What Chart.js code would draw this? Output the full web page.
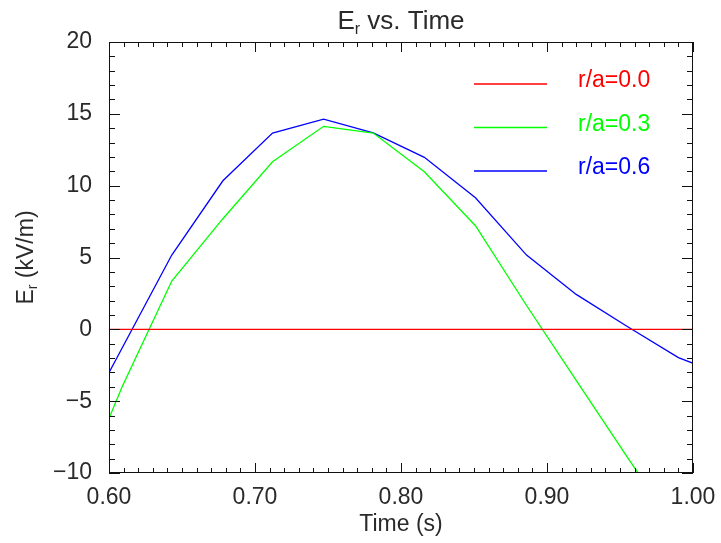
<!DOCTYPE html>
<html>
<head>
<meta charset="utf-8">
<script src="https://cdn.jsdelivr.net/npm/chart.js@4.4.0/dist/chart.umd.min.js"></script>
<style>
  body { margin: 0; background: #fff; }
  #wrap { width: 721px; height: 543px; }
</style>
</head>
<body>
<div id="wrap"><canvas id="erChart"></canvas></div>
<script>
// Time points (s); first and last lie outside the plotted range and get clipped
const times = [0.575, 0.609, 0.643, 0.678, 0.712, 0.747, 0.781, 0.816, 0.851, 0.886, 0.920, 0.955, 0.990, 1.024];

// Er (kV/m) for each radius
const er00 = [0, 0, 0, 0, 0, 0, 0, 0, 0, 0, 0, 0, 0, 0];
const er03 = [-12.3, -4.0, 3.36, 7.7, 11.66, 14.13, 13.66, 10.97, 7.21, 1.66, -3.56, -8.9, -14.1, -19.0];
const er06 = [-7.8, -1.3, 5.17, 10.34, 13.66, 14.63, 13.68, 11.97, 9.16, 5.17, 2.43, 0.2, -1.97, -3.3];

const seriesLabels = ['r/a=0.0', 'r/a=0.3', 'r/a=0.6'];
const seriesColors = ['#ff0000', '#00ff00', '#0000ff'];

// Tick values and labels
const xTicks = [0.6, 0.7, 0.8, 0.9, 1.0];
const xTickLabels = ['0.60', '0.70', '0.80', '0.90', '1.00'];
const yTicks = [-10, -5, 0, 5, 10, 15, 20];
const yTickLabels = ['\u221210', '\u22125', '0', '5', '10', '15', '20'];

const FONT = 'Liberation Sans, Arial, sans-serif';
const INK = '#2a2a2a';

function toPoints(vals) {
    return times.map((t, i) => ({ x: t, y: vals[i] }));
}

// draws text with a subscript part: [base, sub, rest]
function subText(ctx, parts, size, cx, cy) {
    const small = Math.round(size * 0.62);
    ctx.font = size + 'px ' + FONT;
    const w0 = ctx.measureText(parts[0]).width;
    const w2 = ctx.measureText(parts[2]).width;
    ctx.font = small + 'px ' + FONT;
    const w1 = ctx.measureText(parts[1]).width;
    let x = cx - (w0 + w1 + w2) / 2;
    ctx.textBaseline = 'alphabetic';
    ctx.textAlign = 'left';
    ctx.font = size + 'px ' + FONT;
    ctx.fillText(parts[0], x, cy);
    x += w0;
    ctx.font = small + 'px ' + FONT;
    ctx.fillText(parts[1], x, cy + size * 0.18);
    x += w1;
    ctx.font = size + 'px ' + FONT;
    ctx.fillText(parts[2], x, cy);
}

const framePlugin = {
    id: 'frame',
    afterDraw(chart) {
        const { ctx, chartArea: ca, scales: { x, y } } = chart;
        ctx.save();
        ctx.strokeStyle = '#111';
        ctx.lineWidth = 1;
        ctx.strokeRect(ca.left + 0.5, ca.top + 0.5, ca.right - ca.left - 1, ca.bottom - ca.top - 1);

        // inward ticks, minor every 0.01 s and every 1 kV/m
        ctx.beginPath();
        for (let i = 0; i <= 40; i++) {
            const px = Math.round(x.getPixelForValue(0.6 + i * 0.01)) + 0.5;
            const len = i % 10 === 0 ? 10 : 5;
            ctx.moveTo(px, ca.bottom); ctx.lineTo(px, ca.bottom - len);
            ctx.moveTo(px, ca.top); ctx.lineTo(px, ca.top + len);
        }
        for (let i = 0; i <= 30; i++) {
            const py = Math.round(y.getPixelForValue(-10 + i)) + 0.5;
            const len = i % 5 === 0 ? 11 : 6;
            ctx.moveTo(ca.left, py); ctx.lineTo(ca.left + len, py);
            ctx.moveTo(ca.right, py); ctx.lineTo(ca.right - len, py);
        }
        ctx.stroke();

        // legend inside the plot
        chart.data.datasets.forEach((ds, i) => {
            const ly = ca.top + 42 + i * 43.5;
            ctx.strokeStyle = ds.borderColor;
            ctx.lineWidth = 1.3;
            ctx.beginPath();
            ctx.moveTo(ca.right - 219, ly);
            ctx.lineTo(ca.right - 146, ly);
            ctx.stroke();
            ctx.fillStyle = ds.borderColor;
            ctx.font = '23px ' + FONT;
            ctx.textAlign = 'left';
            ctx.textBaseline = 'middle';
            ctx.fillText(ds.label, ca.right - 115, ly - 3);
        });

        // titles
        ctx.fillStyle = INK;
        const cx = (ca.left + ca.right) / 2;
        subText(ctx, ['E', 'r', ' vs. Time'], 26, cx, 29);
        ctx.font = '23px ' + FONT;
        ctx.textAlign = 'center';
        ctx.textBaseline = 'alphabetic';
        ctx.fillText('Time (s)', cx, 531);
        ctx.translate(33, (ca.top + ca.bottom) / 2);
        ctx.rotate(-Math.PI / 2);
        subText(ctx, ['E', 'r', ' (kV/m)'], 23, 0, 0);
        ctx.restore();
    }
};

const ctx = document.getElementById('erChart').getContext('2d');
const erChart = new Chart(ctx, {
    type: 'line',
    data: {
        datasets: [0, 1, 2].map(i => ({
            label: seriesLabels[i],
            data: toPoints([er00, er03, er06][i]),
            borderColor: seriesColors[i],
            borderWidth: 1.3,
            pointRadius: 0,
            tension: 0,
            clip: 0
        }))
    },
    options: {
        responsive: true,
        maintainAspectRatio: false,
        animation: false,
        layout: { padding: { top: 42, right: 28, left: 0, bottom: 0 } },
        plugins: {
            legend: { display: false },
            title: { display: false },
            tooltip: { enabled: false }
        },
        scales: {
            x: {
                type: 'linear',
                min: 0.6,
                max: 1.0,
                grid: { display: false },
                border: { display: false },
                afterBuildTicks: scale => { scale.ticks = xTicks.map(v => ({ value: v })); },
                afterFit: scale => {
                    scale.height = 70;
                    scale.paddingLeft = 0;
                    scale.paddingRight = 0;
                },
                ticks: {
                    color: INK,
                    font: { family: FONT, size: 23 },
                    padding: 3,
                    maxRotation: 0,
                    callback: (v, i) => xTickLabels[i]
                }
            },
            y: {
                min: -10,
                max: 20,
                grid: { display: false },
                border: { display: false },
                afterBuildTicks: scale => { scale.ticks = yTicks.map(v => ({ value: v })); },
                afterFit: scale => {
                    scale.width = 109;
                    scale.paddingTop = 0;
                    scale.paddingBottom = 0;
                },
                ticks: {
                    color: INK,
                    font: { family: FONT, size: 23 },
                    padding: 9,
                    callback: (v, i) => yTickLabels[i]
                }
            }
        }
    },
    plugins: [framePlugin]
});
</script>
</body>
</html>
